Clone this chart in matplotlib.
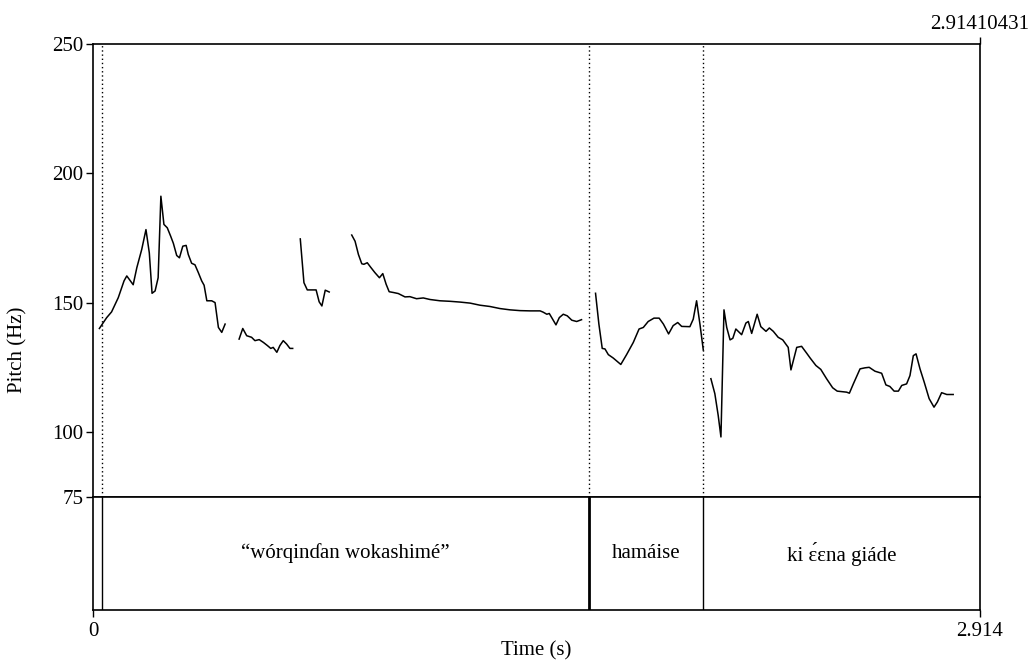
import matplotlib
matplotlib.use('Agg')
import matplotlib.pyplot as plt

plt.rcParams['font.family'] = ['Liberation Serif', 'DejaVu Serif']

t_end = 2.91410431

# pitch contour, one pair of lists per voiced stretch (time s, pitch Hz)
t1 = [0.021, 0.034, 0.045, 0.061, 0.083, 0.102, 0.111, 0.132, 0.144, 0.160, 0.174, 0.185,
      0.194, 0.204, 0.214, 0.223, 0.233, 0.244, 0.255, 0.264, 0.275, 0.284, 0.295, 0.306,
      0.313, 0.324, 0.335, 0.346, 0.357, 0.365, 0.374, 0.390, 0.401, 0.412, 0.423, 0.434]
f1 = [140.1, 142.4, 144.3, 146.5, 152.0, 158.5, 160.4, 157.0, 163.6, 170.6, 178.3, 169.3,
      153.7, 154.6, 159.7, 191.2, 180.3, 179.0, 175.8, 173.0, 168.3, 167.4, 171.9, 172.2,
      168.7, 165.3, 164.7, 161.7, 158.5, 156.8, 150.8, 150.8, 150.1, 140.5, 138.6, 141.8]

t2 = [0.480, 0.492, 0.505, 0.521, 0.532, 0.546, 0.560, 0.573, 0.584, 0.592, 0.604, 0.614,
      0.625, 0.636, 0.647, 0.656]
f2 = [136.0, 140.1, 137.3, 136.7, 135.4, 135.8, 134.7, 133.5, 132.4, 132.8, 130.9, 133.5,
      135.4, 134.1, 132.4, 132.4]

t3 = [0.681, 0.693, 0.704, 0.724, 0.733, 0.743, 0.752, 0.763, 0.776]
f3 = [174.7, 157.8, 155.0, 155.0, 155.0, 150.4, 148.8, 154.9, 154.2]

t4 = [0.850, 0.861, 0.872, 0.883, 0.890, 0.901, 0.912, 0.926, 0.941, 0.952, 0.963, 0.973,
      0.987, 1.003, 1.025, 1.041, 1.063, 1.085, 1.107, 1.140, 1.173, 1.206, 1.239, 1.271,
      1.304, 1.337, 1.370, 1.403, 1.436, 1.469, 1.479, 1.491, 1.499, 1.510, 1.521, 1.532,
      1.545, 1.558, 1.573, 1.589, 1.605]
f4 = [176.2, 173.8, 168.7, 165.1, 164.9, 165.5, 163.8, 161.7, 159.7, 161.3, 157.2, 154.3,
      154.0, 153.6, 152.3, 152.4, 151.6, 151.9, 151.3, 150.8, 150.6, 150.3, 149.9, 149.1,
      148.6, 147.8, 147.3, 147.0, 146.9, 146.9, 146.4, 145.6, 145.9, 143.7, 141.5, 144.3,
      145.6, 145.0, 143.3, 142.8, 143.5]

t5 = [1.651, 1.662, 1.673, 1.682, 1.693, 1.709, 1.734, 1.753, 1.775, 1.794, 1.808, 1.824,
      1.843, 1.860, 1.874, 1.891, 1.906, 1.921, 1.934, 1.961, 1.972, 1.983, 1.994, 2.005]
f5 = [153.7, 141.8, 132.4, 132.2, 130.0, 128.7, 126.2, 130.0, 134.7, 139.9, 140.5, 142.8,
      144.1, 144.1, 141.8, 138.0, 141.2, 142.4, 140.9, 140.8, 143.7, 150.8, 141.8, 131.8]

t6 = [2.030, 2.043, 2.054, 2.063, 2.073, 2.082, 2.093, 2.102, 2.112, 2.131, 2.145, 2.153,
      2.164, 2.182, 2.194, 2.211, 2.222, 2.235, 2.251, 2.266, 2.284, 2.293, 2.312, 2.328,
      2.345, 2.356, 2.375, 2.391, 2.410, 2.430, 2.445, 2.476, 2.485, 2.498, 2.520, 2.536,
      2.550, 2.569, 2.591, 2.605, 2.618, 2.632, 2.646, 2.657, 2.673, 2.684, 2.695, 2.704,
      2.717, 2.731, 2.747, 2.763, 2.774, 2.788, 2.805, 2.826]
f6 = [120.7, 114.9, 106.5, 98.2, 147.3, 140.5, 135.7, 136.3, 139.9, 137.7, 142.2, 142.8,
      138.2, 145.6, 140.8, 139.0, 140.3, 139.0, 136.7, 135.7, 132.8, 124.1, 132.8, 133.2,
      130.5, 128.7, 125.8, 124.3, 120.7, 117.2, 115.9, 115.5, 115.1, 118.7, 124.5, 124.9,
      125.1, 123.6, 122.8, 118.3, 117.7, 115.9, 115.9, 118.1, 118.7, 121.9, 129.6, 130.3,
      124.5, 119.3, 113.0, 109.7, 111.7, 115.3, 114.6, 114.6]

segments = [(t1, f1), (t2, f2), (t3, f3), (t4, f4), (t5, f5), (t6, f6)]

# text grid tier
boundaries = [0.0296, 1.6294, 2.0039]
labels = ['\u201cw\u00f3rqin\u0257an wokashim\u00e9\u201d', 'ham\u00e1ise', 'ki \u025b\u0301\u025bna gi\u00e1de']
label_pos = [(0.0296 + 1.6294) / 2, (1.6294 + 2.0039) / 2, (2.0039 + t_end) / 2]

yticks = [75, 100, 150, 200, 250]
fs = 15

W, H = 1031, 664
fig = plt.figure(figsize=(W / 100, H / 100), dpi=100)
left, right = 93 / W, 980 / W
ax = fig.add_axes([left, 1 - 497 / H, right - left, (497 - 44) / H])
axt = fig.add_axes([left, 1 - 610 / H, right - left, (610 - 497) / H])

lw = 1.2
for t, f in segments:
    ax.plot(t, f, color='black', lw=1.1)
for b in boundaries:
    ax.axvline(b, color='black', lw=1.0, ls=(0, (1, 2)))
    axt.axvline(b, color='black', lw=2.0 if b == 1.6294 else 1.0)

ax.set_xlim(0, t_end)
ax.set_ylim(75, 250)
ax.set_yticks(yticks)
ax.set_yticklabels([str(v) for v in yticks], fontsize=fs)
ax.xaxis.tick_top()
ax.set_xticks([t_end])
ax.set_xticklabels(['2.91410431'], fontsize=fs)
ax.tick_params(direction='out', length=5, width=1, pad=2)
for s in ax.spines.values():
    s.set_linewidth(lw)

axt.set_xlim(0, t_end)
axt.set_ylim(0, 1)
axt.set_yticks([])
axt.set_xticks([0, t_end])
axt.set_xticklabels(['0', '2.914'], fontsize=fs)
axt.tick_params(direction='out', length=5, width=1, pad=4)
for s in axt.spines.values():
    s.set_linewidth(lw)
for x, lab in zip(label_pos, labels):
    axt.text(x, 0.5, lab, ha='center', va='center', fontsize=fs)

fig.text(18 / W, 1 - 350 / H, 'Pitch (Hz)', rotation=90, ha='center', va='center', fontsize=fs)
fig.text((93 + 980) / 2 / W, 1 - 651 / H, 'Time (s)', ha='center', va='center', fontsize=fs)

fig.savefig('out.png', dpi=100)
